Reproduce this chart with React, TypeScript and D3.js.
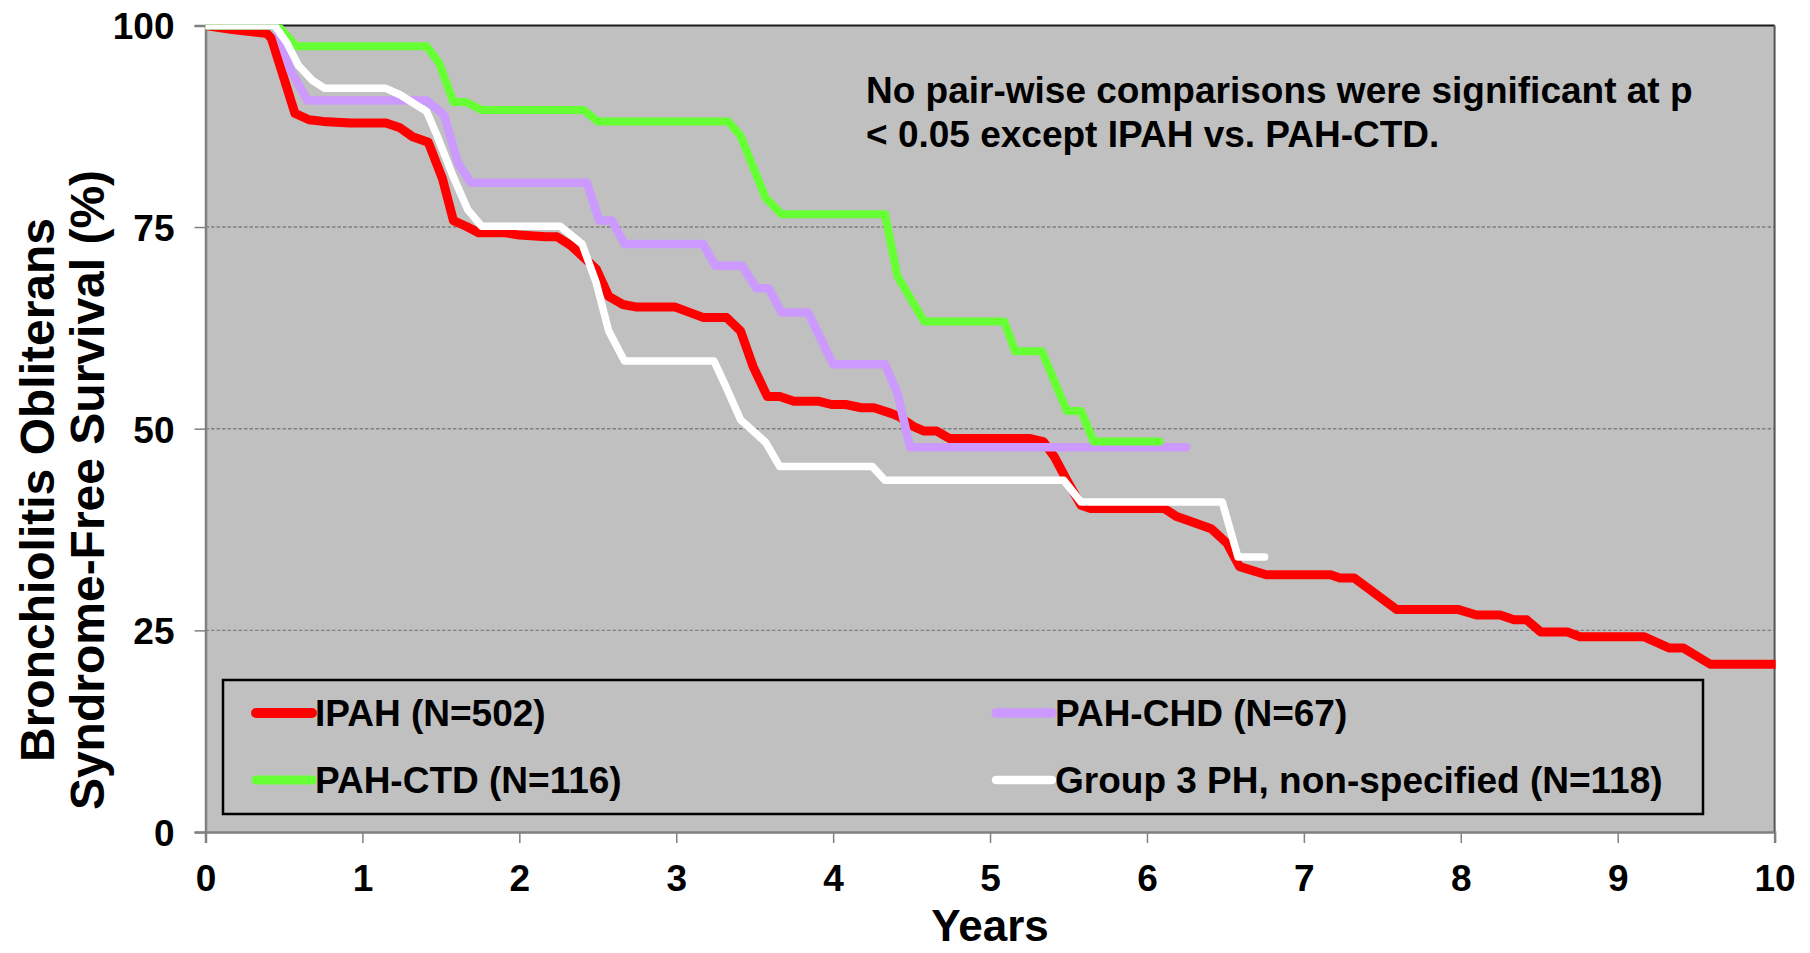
import React, { useEffect, useRef } from 'react';
import * as d3 from 'd3';

// series, in Excel's order (later ones are drawn on top)
const seriesNames = ['IPAH (N=502)', 'PAH-CHD (N=67)', 'PAH-CTD (N=116)', 'Group 3 PH, non-specified (N=118)'];
const seriesColors = ['#ff0000', '#cc99ff', '#66ff33', '#ffffff'];
const seriesWidths = [9, 8.5, 8, 7.5];

// [years, % free of BOS]
const ipah: [number, number][] = [
    [0, 100], [0.17, 99.5], [0.39, 99], [0.42, 98.4], [0.57, 89.1], [0.66, 88.3], [0.75, 88.1], [0.92, 87.9],
    [1.15, 87.9], [1.24, 87.3], [1.32, 86.2], [1.42, 85.5], [1.51, 81], [1.58, 75.8], [1.66, 75.1], [1.74, 74.3],
    [1.91, 74.3], [2.0, 74], [2.17, 73.8], [2.24, 73.8], [2.33, 72.7], [2.39, 71.6], [2.49, 69.8], [2.57, 66.4],
    [2.66, 65.4], [2.74, 65.1], [2.99, 65.1], [3.17, 63.8], [3.32, 63.8], [3.41, 62.1], [3.49, 57.7], [3.58, 54],
    [3.66, 54], [3.75, 53.4], [3.91, 53.4], [3.99, 53], [4.08, 53], [4.18, 52.6], [4.26, 52.6], [4.37, 51.9],
    [4.42, 51.5], [4.51, 50.3], [4.58, 49.7], [4.66, 49.7], [4.74, 48.8], [5.25, 48.8], [5.34, 48.4], [5.41, 46.5],
    [5.49, 43.6], [5.58, 40.5], [5.64, 40.1], [6.11, 40.1], [6.19, 39.1], [6.41, 37.6], [6.51, 35.8], [6.59, 32.9],
    [6.76, 31.9], [7.17, 31.9], [7.23, 31.5], [7.32, 31.5], [7.59, 27.6], [7.98, 27.6], [8.1, 26.9], [8.25, 26.9],
    [8.34, 26.3], [8.42, 26.3], [8.51, 24.8], [8.68, 24.8], [8.76, 24.2], [9.17, 24.2], [9.33, 22.8], [9.42, 22.8],
    [9.59, 20.8], [10, 20.8]
];
const pahChd: [number, number][] = [
    [0, 100], [0.45, 100], [0.54, 94.5], [0.65, 90.7], [1.41, 90.7], [1.52, 88.9], [1.61, 82.9], [1.69, 80.5],
    [2.43, 80.5], [2.51, 75.8], [2.59, 75.8], [2.67, 72.9], [3.17, 72.9], [3.25, 70.2], [3.42, 70.2], [3.51, 67.4],
    [3.59, 67.4], [3.67, 64.4], [3.84, 64.4], [4.0, 58], [4.33, 58], [4.41, 54.4], [4.49, 47.7], [6.25, 47.7]
];
const pahCtd: [number, number][] = [
    [0, 100], [0.46, 100], [0.58, 97.4], [1.41, 97.4], [1.49, 95.3], [1.58, 90.5], [1.66, 90.5], [1.76, 89.5],
    [2.41, 89.5], [2.5, 88.1], [3.33, 88.1], [3.41, 86.3], [3.57, 78.6], [3.67, 76.6], [4.33, 76.6], [4.41, 68.9],
    [4.58, 63.3], [5.09, 63.3], [5.16, 59.6], [5.33, 59.6], [5.49, 52.2], [5.58, 52.2], [5.66, 48.4], [6.08, 48.4]
];
const group3: [number, number][] = [
    [0, 100], [0.44, 100], [0.52, 97.8], [0.59, 95.1], [0.68, 93.2], [0.76, 92.2], [1.15, 92.2], [1.24, 91.4],
    [1.41, 89.3], [1.47, 86.6], [1.58, 81.2], [1.67, 77.2], [1.76, 75.1], [2.26, 75.1], [2.4, 72.9], [2.49, 68.1],
    [2.57, 62.1], [2.67, 58.4], [3.24, 58.4], [3.31, 55.5], [3.41, 51.1], [3.57, 48.3], [3.66, 45.3], [4.25, 45.3],
    [4.33, 43.6], [5.47, 43.6], [5.58, 40.9], [6.48, 40.9], [6.58, 34.1], [6.75, 34.1]
];

const xTicks = [0, 1, 2, 3, 4, 5, 6, 7, 8, 9, 10];
const yTicks = [0, 25, 50, 75, 100];
const gridValues = [25, 50, 75];
const noteLines = ['No pair-wise comparisons were significant at p', '< 0.05 except IPAH vs. PAH-CTD.'];
const yTitleLines = ['Bronchiolitis Obliterans', 'Syndrome-Free Survival (%)'];
const xTitle = 'Years';

const font = "'Liberation Sans', Arial, Helvetica, sans-serif";

export default function App() {
    const ref = useRef<SVGSVGElement>(null);
    const width = 1810;
    const height = 953;
    const plot = { left: 205.5, right: 1774.6, top: 25.4, bottom: 832 };

    useEffect(() => {
        document.body.style.margin = '0';
        const svg = d3.select(ref.current);
        svg.selectAll('*').remove();

        const xScale = d3.scaleLinear().domain([0, 10]).range([plot.left, plot.right]);
        const yScale = d3.scaleLinear().domain([0, 100]).range([plot.bottom, plot.top]);

        // plot area
        svg.append('rect')
            .attr('x', plot.left)
            .attr('y', plot.top)
            .attr('width', plot.right - plot.left)
            .attr('height', plot.bottom - plot.top)
            .attr('fill', '#c0c0c0');
        svg.append('clipPath')
            .attr('id', 'plot-clip')
            .append('rect')
            .attr('x', plot.left)
            .attr('y', plot.top - 1)
            .attr('width', plot.right - plot.left + 1)
            .attr('height', plot.bottom - plot.top + 1);

        // gridlines
        svg.append('g')
            .selectAll('line')
            .data(gridValues)
            .enter().append('line')
            .attr('x1', plot.left)
            .attr('x2', plot.right)
            .attr('y1', d => yScale(d))
            .attr('y2', d => yScale(d))
            .attr('stroke', '#808080')
            .attr('stroke-width', 1.4)
            .attr('stroke-dasharray', '3.5,2');

        // border top / right
        svg.append('line')
            .attr('x1', plot.left).attr('x2', plot.right)
            .attr('y1', plot.top).attr('y2', plot.top)
            .attr('stroke', '#1a1a1a').attr('stroke-width', 2);
        svg.append('line')
            .attr('x1', plot.right).attr('x2', plot.right)
            .attr('y1', plot.top).attr('y2', plot.bottom)
            .attr('stroke', '#555').attr('stroke-width', 2);

        // axes
        const yAxis = d3.axisLeft(yScale).tickValues(yTicks).tickSize(11).tickPadding(20);
        const xAxis = d3.axisBottom(xScale).tickValues(xTicks).tickSize(11).tickPadding(22);
        const gy = svg.append('g')
            .attr('transform', 'translate(' + plot.left + ',0)')
            .call(yAxis);
        const gx = svg.append('g')
            .attr('transform', 'translate(0,' + plot.bottom + ')')
            .call(xAxis);
        [gx, gy].forEach(g => {
            g.select('.domain').attr('stroke', '#808080').attr('stroke-width', 2.5);
            g.selectAll('.tick line').attr('stroke', '#808080').attr('stroke-width', 1.5);
            g.selectAll('.tick text')
                .attr('fill', '#000')
                .style('font-family', font)
                .style('font-weight', 'bold')
                .style('font-size', '37px');
        });
        gy.selectAll('.tick text').attr('dy', '0.36em');

        // curves
        const line = d3.line<[number, number]>()
            .x(d => xScale(d[0]))
            .y(d => yScale(d[1]));
        const allSeries = [ipah, pahChd, pahCtd, group3];
        svg.append('g')
            .attr('clip-path', 'url(#plot-clip)')
            .selectAll('path')
            .data(allSeries)
            .enter().append('path')
            .attr('d', d => line(d))
            .attr('fill', 'none')
            .attr('stroke', (d, i) => seriesColors[i])
            .attr('stroke-width', (d, i) => seriesWidths[i])
            .attr('stroke-linejoin', 'round')
            .attr('stroke-linecap', 'round');

        // note
        svg.append('text')
            .attr('x', 866)
            .attr('y', 103)
            .style('font-family', font)
            .style('font-weight', 'bold')
            .style('font-size', '37px')
            .selectAll('tspan')
            .data(noteLines)
            .enter().append('tspan')
            .attr('x', 866)
            .attr('dy', (d, i) => i === 0 ? 0 : 44)
            .text(d => d);

        // legend
        const legend = svg.append('g');
        legend.append('rect')
            .attr('x', 223)
            .attr('y', 680)
            .attr('width', 1480)
            .attr('height', 134)
            .attr('fill', '#c0c0c0')
            .attr('stroke', '#000')
            .attr('stroke-width', 2.5);
        const cols = [256, 996];
        const rows = [713, 780];
        const items = legend.selectAll('.item')
            .data(seriesNames)
            .enter().append('g')
            .attr('class', 'item')
            .attr('transform', (d, i) => 'translate(' + cols[i % 2] + ',' + rows[Math.floor(i / 2)] + ')');
        items.append('line')
            .attr('x1', 0)
            .attr('x2', 56)
            .attr('stroke', (d, i) => seriesColors[i])
            .attr('stroke-width', (d, i) => seriesWidths[i] + 1)
            .attr('stroke-linecap', 'round');
        items.append('text')
            .attr('x', 59)
            .attr('dy', '0.36em')
            .style('font-family', font)
            .style('font-weight', 'bold')
            .style('font-size', '37px')
            .text(d => d);

        // axis titles
        svg.append('text')
            .attr('x', (plot.left + plot.right) / 2)
            .attr('y', 941)
            .attr('text-anchor', 'middle')
            .style('font-family', font)
            .style('font-weight', 'bold')
            .style('font-size', '44px')
            .text(xTitle);
        svg.selectAll('.ytitle')
            .data(yTitleLines)
            .enter().append('text')
            .attr('class', 'ytitle')
            .attr('text-anchor', 'middle')
            .attr('transform', (d, i) => 'translate(' + (i === 0 ? 54 : 104) + ',490) rotate(-90)')
            .style('font-family', font)
            .style('font-weight', 'bold')
            .style('font-size', '48px')
            .text(d => d);
    }, []);

    return (
        <svg ref={ref} width={width} height={height} style={{ display: 'block', background: '#fff' }}></svg>
    );
}
